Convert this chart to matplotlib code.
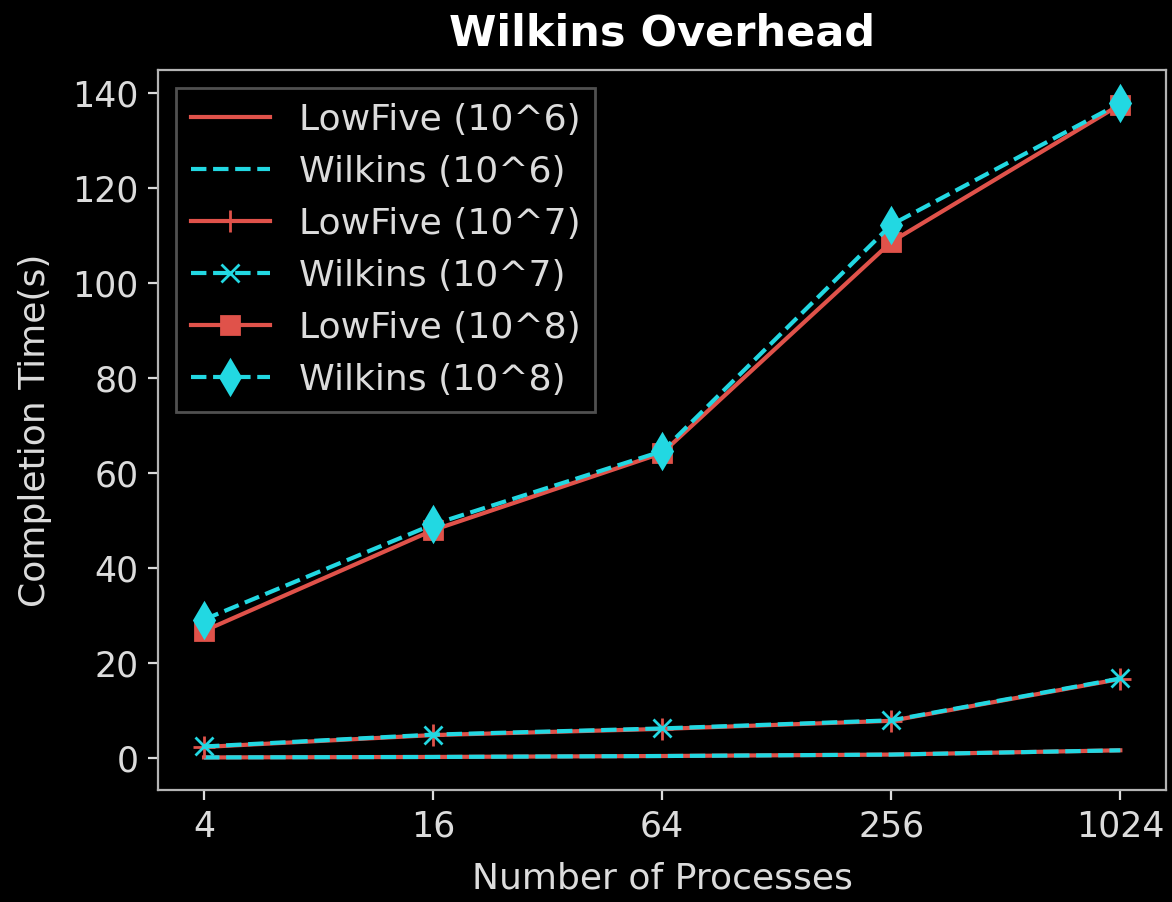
import matplotlib
matplotlib.use("Agg")
import matplotlib.pyplot as plt

procs = [4, 16, 64, 256, 1024]

lowfive_1e6 = [0.2, 0.3, 0.5, 0.8, 1.7]
wilkins_1e6 = [0.2, 0.3, 0.5, 0.8, 1.7]
lowfive_1e7 = [2.4, 4.9, 6.2, 7.9, 16.7]
wilkins_1e7 = [2.5, 5.0, 6.3, 8.0, 16.8]
lowfive_1e8 = [26.8, 48.0, 64.2, 108.6, 137.5]
wilkins_1e8 = [29.2, 49.2, 64.6, 112.2, 137.8]

red = '#e0524a'
cyan = '#22d8e2'
text_col = '#dcdcdc'
spine_col = '#b4b4b4'

plt.rcParams['font.family'] = ['DejaVu Sans']
fig, ax = plt.subplots(figsize=(5.86, 4.51), dpi=200)
fig.patch.set_facecolor('black')
ax.set_facecolor('black')

ax.plot(procs, lowfive_1e6, color=red, linestyle='-', label='LowFive (10^6)')
ax.plot(procs, wilkins_1e6, color=cyan, linestyle='--', label='Wilkins (10^6)')
ax.plot(procs, lowfive_1e7, color=red, linestyle='-', marker='+', markersize=8, label='LowFive (10^7)')
ax.plot(procs, wilkins_1e7, color=cyan, linestyle='--', marker='x', markersize=6.5, label='Wilkins (10^7)')
ax.plot(procs, lowfive_1e8, color=red, linestyle='-', marker='s', markersize=6.5, label='LowFive (10^8)')
ax.plot(procs, wilkins_1e8, color=cyan, linestyle='--', marker='d', markersize=8.5, label='Wilkins (10^8)')

ax.set_xscale('log', base=2)
ax.set_xticks(procs)
ax.set_xticklabels([str(p) for p in procs])
ax.minorticks_off()

ax.set_title('Wilkins Overhead', fontsize=15.5, fontweight='bold', color='white', pad=9)
ax.set_xlabel('Number of Processes', fontsize=13, color=text_col, labelpad=6.5)
ax.set_ylabel('Completion Time(s)', fontsize=13, color=text_col, labelpad=7.5)
ax.tick_params(colors=text_col, labelsize=12.5)
for s in ax.spines.values():
    s.set_color(spine_col)

leg = ax.legend(loc='upper left', fontsize=13, facecolor='black', edgecolor='#505050',
                framealpha=1, fancybox=False, handlelength=2.2)
for t in leg.get_texts():
    t.set_color(text_col)

fig.subplots_adjust(left=0.135, right=0.995, top=0.922, bottom=0.124)
fig.savefig('out.png', dpi=200, facecolor='black')
